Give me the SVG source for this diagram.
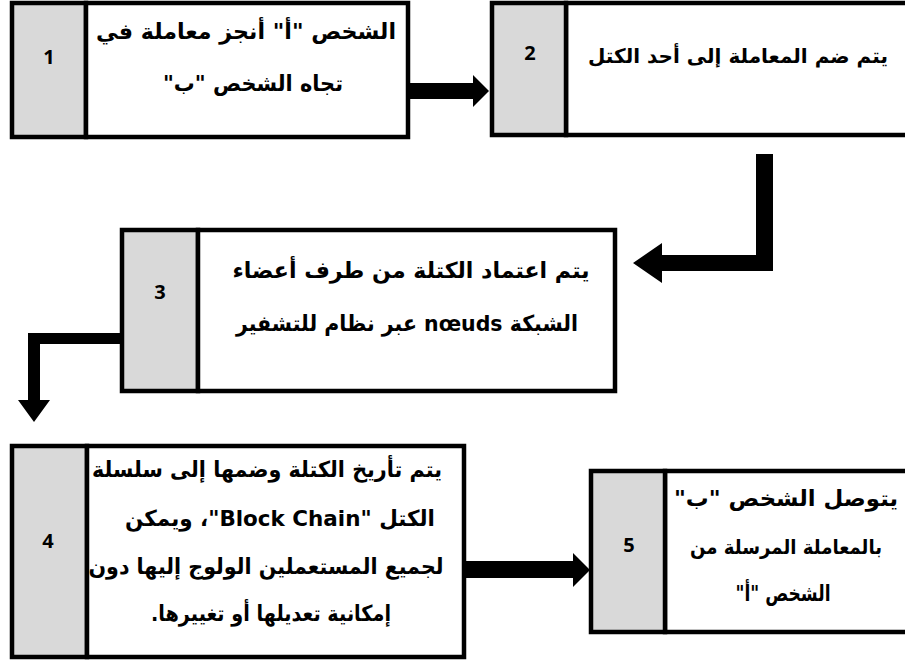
<svg xmlns="http://www.w3.org/2000/svg" width="905" height="661" viewBox="0 0 905 661">
<style>
.num{fill:#d9d9d9;stroke:#000;stroke-width:4.5}
.box{fill:#fff;stroke:#000;stroke-width:4.5}
.open{fill:none;stroke:#000;stroke-width:4.5}
.n{font-family:"Open Sans","DejaVu Sans",sans-serif;font-weight:bold;font-size:20px;fill:#000;text-anchor:middle}
.t{font-family:"DejaVu Sans",sans-serif;font-weight:bold;font-size:22px;fill:#000;text-anchor:middle;direction:rtl}
.arrow{fill:#000;stroke:none}
</style>
<rect width="905" height="661" fill="#fff"/>
<g id="connectors">
<polygon class="arrow" points="410,83 473,83 473,75 489,91 473,107 473,99 410,99"/>
<polygon class="arrow" points="773,154 773,271 662,271 662,283 633,263 662,243 662,255 756,255 756,154"/>
<polygon class="arrow" points="120,333 28,333 28,400 18,400 34,422 50,400 40,400 40,344 120,344"/>
<polygon class="arrow" points="466,561 573,561 573,553 590,570 573,587 573,578 466,578"/>
</g>
<g id="node1">
<rect class="num" x="12" y="3" width="74" height="134"/>
<rect class="box" x="86" y="3" width="322" height="134"/>
<text class="n" x="49" y="64">1</text>
<text class="t" x="246" y="39" textLength="300" lengthAdjust="spacingAndGlyphs">الشخص "أ" أنجز معاملة في</text>
<text class="t" x="253" y="91" textLength="180" lengthAdjust="spacingAndGlyphs">تجاه الشخص "ب"</text>
</g>
<g id="node2">
<rect x="566" y="3" width="339" height="132" fill="#fff"/>
<path class="open" d="M905,3 H566 V135 H905"/>
<rect class="num" x="492" y="3" width="74" height="132"/>
<text class="n" x="530" y="60">2</text>
<text class="t" x="738" y="63" style="font-size:20px" textLength="300" lengthAdjust="spacingAndGlyphs">يتم ضم المعاملة إلى أحد الكتل</text>
</g>
<g id="node3">
<rect class="num" x="122" y="230" width="76" height="161"/>
<rect class="box" x="198" y="230" width="417" height="161"/>
<text class="n" x="160" y="299">3</text>
<text class="t" x="411" y="278" textLength="357" lengthAdjust="spacingAndGlyphs">يتم اعتماد الكتلة من طرف أعضاء</text>
<text class="t" x="407" y="331" textLength="342" lengthAdjust="spacingAndGlyphs">الشبكة nœuds عبر نظام للتشفير</text>
</g>
<g id="node4">
<rect class="num" x="12" y="446" width="75" height="211"/>
<rect class="box" x="87" y="446" width="377" height="211"/>
<text class="n" x="48" y="548">4</text>
<text class="t" x="267" y="477" textLength="350" lengthAdjust="spacingAndGlyphs">يتم تأريخ الكتلة وضمها إلى سلسلة</text>
<text class="t" x="280" y="526" textLength="310" lengthAdjust="spacingAndGlyphs">الكتل "Block Chain"، ويمكن</text>
<text class="t" x="266" y="574" textLength="355" lengthAdjust="spacingAndGlyphs">لجميع المستعملين الولوج إليها دون</text>
<text class="t" x="271" y="621" textLength="240" lengthAdjust="spacingAndGlyphs">إمكانية تعديلها أو تغييرها.</text>
</g>
<g id="node5">
<rect x="665" y="471" width="240" height="161" fill="#fff"/>
<path class="open" d="M905,471 H665 V632 H905"/>
<rect class="num" x="591" y="471" width="74" height="161"/>
<text class="n" x="629" y="552">5</text>
<text class="t" x="786" y="506" textLength="224" lengthAdjust="spacingAndGlyphs">يتوصل الشخص "ب"</text>
<text class="t" x="786" y="554" style="font-size:20px" textLength="192" lengthAdjust="spacingAndGlyphs">بالمعاملة المرسلة من</text>
<text class="t" x="783" y="601" textLength="95" lengthAdjust="spacingAndGlyphs">الشخص "أ"</text>
</g>
</svg>
